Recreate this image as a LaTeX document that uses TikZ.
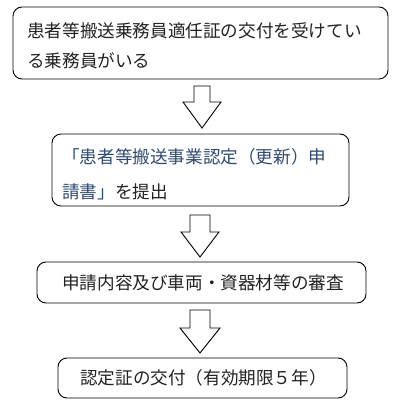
\documentclass[tikz,border=0pt]{standalone}
\usepackage{fontspec}
\newfontfamily\jp{Noto Sans CJK JP}
\definecolor{linkblue}{HTML}{2E4A70}
\definecolor{txt}{HTML}{222222}
\tikzset{
  box/.style={draw=black, line width=0.9pt, rounded corners=9pt, inner sep=0pt},
  lbl/.style={anchor=west, inner sep=0pt, font=\jp\fontsize{17.6pt}{20pt}\selectfont, text=txt},
  blockarrow/.style={draw=black, line width=0.9pt, fill=white, line join=miter}
}
\begin{document}
\begin{tikzpicture}[x=1pt,y=-1pt]
\useasboundingbox (0,0) rectangle (400,406);
% boxes
\node[box, minimum width=375pt, minimum height=72pt] (b1) at (200.5,43) {};
\node[box, minimum width=297pt, minimum height=72pt] (b2) at (200.5,170) {};
\node[box, minimum width=329pt, minimum height=41pt] (b3) at (201.5,282.5) {};
\node[box, minimum width=289pt, minimum height=40pt] (b4) at (202.5,378) {};
% texts
\node[lbl] (t1a) at (27,31) {患者等搬送乗務員適任証の交付を受けてい};
\node[lbl] (t1b) at (27,61) {る乗務員がいる};
\node[lbl] (t2a) at (62,157) {\textcolor{linkblue}{「患者等搬送事業認定（更新）申}};
\node[lbl] (t2b) at (62,192) {\textcolor{linkblue}{請書」}を提出};
\node[lbl] (t3) at (62,283) {申請内容及び車両・資器材等の審査};
\node[lbl] (t4) at (80,378) {認定証の交付（有効期限５年）};
% block arrows
\coordinate (a1) at (202,86);
\draw[blockarrow] (a1) ++(-8,0) -- ++(16,0) -- ++(0,16) -- ++(11,0) -- (202,128) -- (183,102) -- (194,102) -- cycle;
\coordinate (a2) at (200,215);
\draw[blockarrow] (a2) ++(-10,0) -- ++(20,0) -- ++(0,17) -- ++(9,0) -- (200,257) -- (181,232) -- (190,232) -- cycle;
\coordinate (a3) at (200,310);
\draw[blockarrow] (a3) ++(-10,0) -- ++(20,0) -- ++(0,18) -- ++(10,0) -- (200,353) -- (180,328) -- (190,328) -- cycle;
\end{tikzpicture}
\end{document}
